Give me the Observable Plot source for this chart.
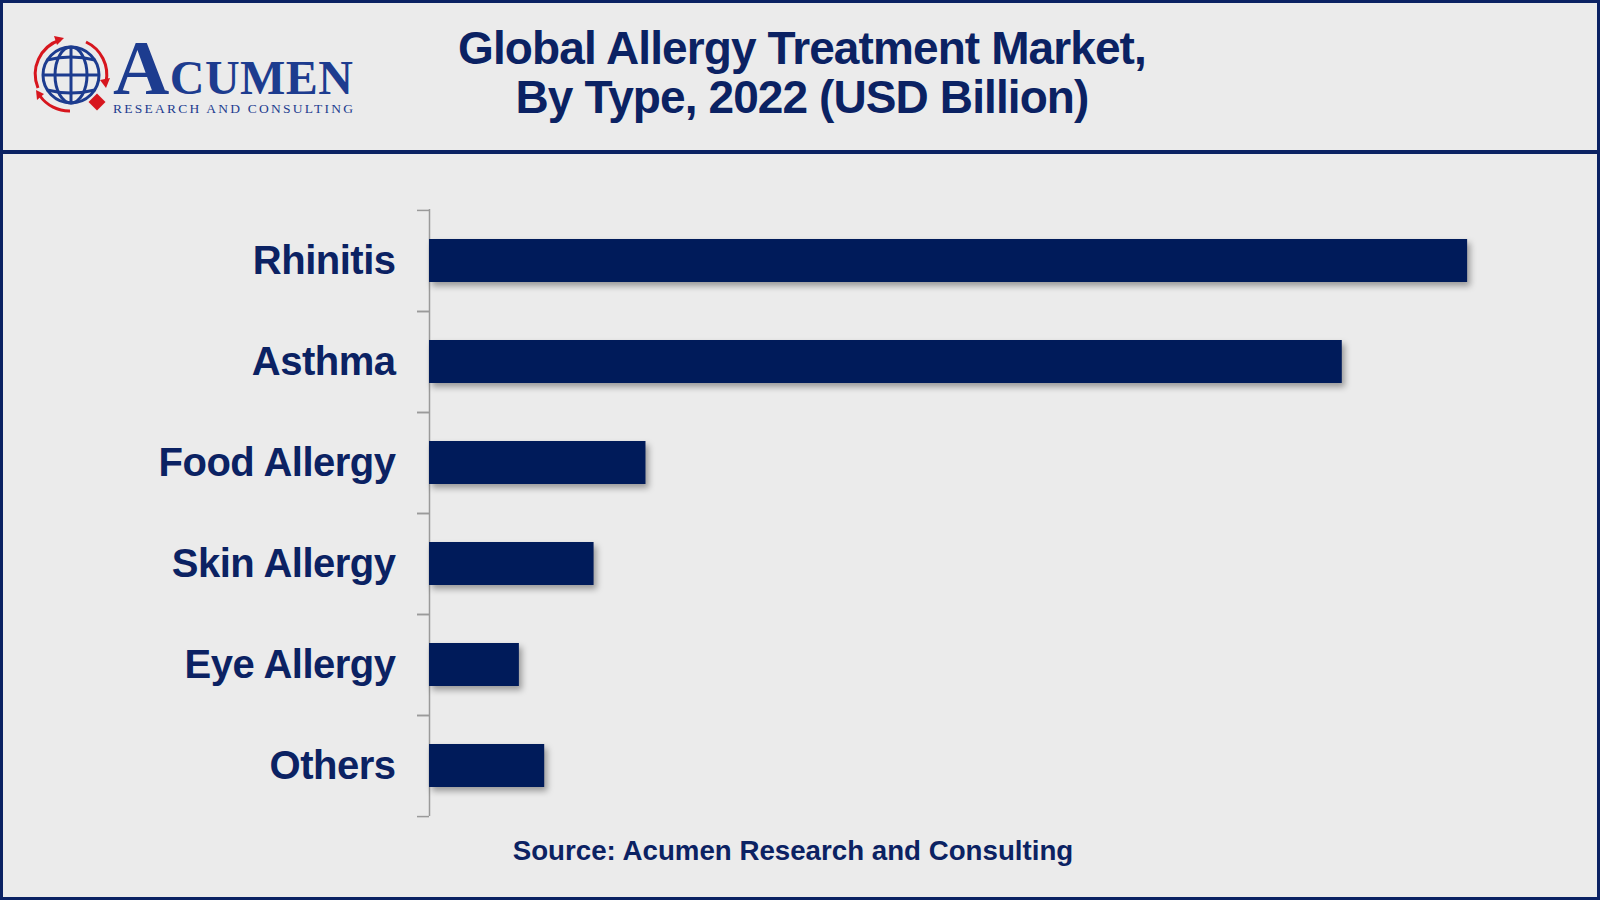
<!DOCTYPE html>
<html><head><meta charset="utf-8">
<script src="https://cdn.jsdelivr.net/npm/d3@7"></script>
<script src="https://cdn.jsdelivr.net/npm/@observablehq/plot@0.6"></script>
<style>
html,body{margin:0;padding:0;background:#ebebeb;}
#frame{position:relative;width:1600px;height:900px;background:#ebebeb;overflow:hidden;font-family:"Liberation Sans",Arial,Helvetica,sans-serif;}
#border{position:absolute;left:0;top:0;width:1600px;height:900px;box-sizing:border-box;border:3px solid #0b2263;pointer-events:none;z-index:5;}
#rule{position:absolute;left:0;top:150px;width:1600px;height:4px;background:#0b2263;}
#title{position:absolute;left:0;top:23.6px;width:1604px;text-align:center;font-size:46px;line-height:49px;font-weight:bold;color:#0b2263;letter-spacing:-0.9px;}
#source{position:absolute;left:0;top:837.3px;width:1586px;text-align:center;font-size:27.7px;line-height:28px;font-weight:bold;color:#0b2263;}
#logo{position:absolute;left:0;top:0;}
#chart{position:absolute;left:0;top:170px;}
#chart svg text{letter-spacing:-0.5px;}
#chart svg g[aria-label="bar"] rect{filter:drop-shadow(3px 4px 3px rgba(0,0,0,0.35));}
</style>
</head><body>
<div id="frame">
  <svg id="logo" width="400" height="150" viewBox="0 0 400 150">
    <g fill="none" stroke="#d7161e" stroke-width="3">
      <path d="M 38 88 A 36 36 0 0 1 60 40"/>
      <path d="M 86 42 A 36 36 0 0 1 106 82"/>
      <path d="M 70 111 A 36 36 0 0 1 40 96"/>
    </g>
    <g fill="#d7161e">
      <path d="M 54 36 L 64 38 L 57 45 Z"/>
      <path d="M 100 80 L 110 78 L 106 88 Z"/>
      <path d="M 36 90 L 44 94 L 37 100 Z"/>
      <rect x="91" y="96" width="12" height="12" transform="rotate(45 97 102)"/>
    </g>
    <g fill="none" stroke="#1d3c8f" stroke-width="3">
      <circle cx="71" cy="75" r="28"/>
      <ellipse cx="71" cy="75" rx="16" ry="28"/>
      <line x1="71" y1="47" x2="71" y2="103"/>
      <line x1="43" y1="75" x2="99" y2="75"/>
      <path d="M 47 60 Q 71 54 95 60"/>
      <path d="M 47 90 Q 71 96 95 90"/>
    </g>
    <text x="113" y="94" font-family="Liberation Serif, 'DejaVu Serif', serif" font-weight="bold" fill="#1d3c8f" textLength="240" lengthAdjust="spacing"><tspan font-size="78">A</tspan><tspan font-size="48">CUMEN</tspan></text>
    <text x="113" y="113" font-size="13.5" font-family="Liberation Serif, 'DejaVu Serif', serif" fill="#1d3c8f" textLength="240" lengthAdjust="spacing">RESEARCH AND CONSULTING</text>
  </svg>
  <div id="title">Global Allergy Treatment Market,<br>By Type, 2022 (USD Billion)</div>
  <div id="rule"></div>
  <div id="chart"></div>
  <div id="source">Source: Acumen Research and Consulting</div>
  <div id="border"></div>
</div>
<script>
const types = ["Rhinitis", "Asthma", "Food Allergy", "Skin Allergy", "Eye Allergy", "Others"];
const values = [8.2, 7.21, 1.71, 1.30, 0.71, 0.91];
const data = types.map((type, i) => ({type, value: values[i]}));

const H = 660, MT = 39, MB = 14;
const step = (H - MT - MB) / types.length;
const navy = "#001b5a";
const textNavy = "#0b2263";
const gray = "#9a9a9a";

const chart = Plot.plot({
  width: 1600,
  height: H,
  marginTop: MT,
  marginBottom: MB,
  marginLeft: 429,
  marginRight: 31.6,
  style: {background: "transparent", overflow: "visible", fontFamily: "'Liberation Sans', Arial, Helvetica, sans-serif"},
  x: {domain: [0, 9], axis: null},
  y: {domain: types, paddingInner: 0.575, paddingOuter: 0.2875, label: null},
  marks: [
    Plot.ruleX([0], {stroke: gray, strokeWidth: 1.5}),
    Plot.axisY({tickSize: 12, fill: "none", dy: -step / 2, stroke: gray, strokeWidth: 1.5, label: null}),
    Plot.axisY({tickSize: 12, fill: "none", dy: step / 2, stroke: gray, strokeWidth: 1.5, label: null}),
    Plot.barX(data, {y: "type", x: "value", fill: navy}),
    Plot.axisY({tickSize: 0, tickPadding: 34, fontSize: 40, fontWeight: "bold", fill: textNavy, label: null})
  ]
});
document.getElementById("chart").appendChild(chart);
</script>
</body></html>
